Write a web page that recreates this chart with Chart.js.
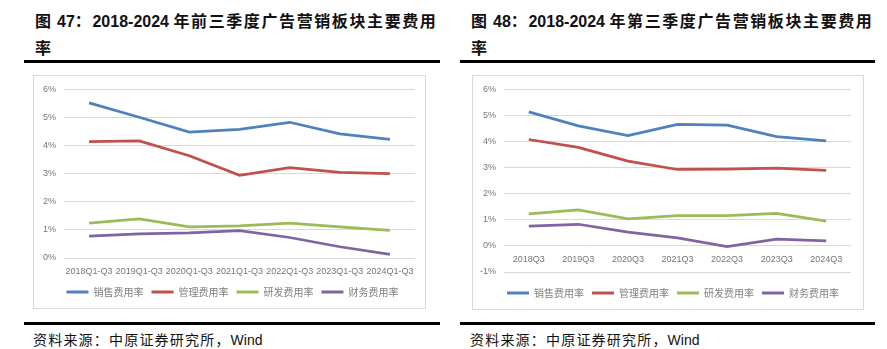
<!DOCTYPE html>
<html>
<head>
<meta charset="utf-8">
<script src="https://cdn.jsdelivr.net/npm/chart.js@4/dist/chart.umd.min.js"></script>
<style>
  html, body { margin: 0; padding: 0; background: #fff; }
  body { width: 887px; height: 349px; position: relative; overflow: hidden;
         font-family: "Liberation Sans", "Noto Sans CJK SC", sans-serif; }
  .title { position: absolute; top: 8px; font-weight: 700; font-size: 16px; line-height: 27px;
           color: #111; white-space: nowrap; }
  .title .c { letter-spacing: 1.6px; }
  .rule { position: absolute; height: 3px; background: #000; }
  .frame { position: absolute; border: 1px solid #d9d9d9; box-sizing: border-box; background: #fff; }
  .frame canvas { position: absolute; left: 0; top: 0; }
  .src { position: absolute; top: 330px; font-size: 14px; line-height: 20px; color: #111; white-space: nowrap; }
  .src .c { letter-spacing: 1.2px; }
</style>
</head>
<body>

<div class="title" style="left:35px"><span class="c">图</span> 47<span class="c">：</span>2018-2024 <span class="c">年前三季度广告营销板块主要费用</span><br><span class="c">率</span></div>
<div class="title" style="left:471px"><span class="c">图</span> 48<span class="c">：</span>2018-2024 <span class="c">年第三季度广告营销板块主要费用</span><br><span class="c">率</span></div>

<div class="rule" style="left:24px;width:416px;top:60px"></div>
<div class="rule" style="left:460px;width:415px;top:60px"></div>

<div class="frame" style="left:33px;top:75px;width:393px;height:234px">
  <canvas id="c1" width="391" height="232"></canvas>
</div>
<div class="frame" style="left:472px;top:75px;width:392px;height:235px">
  <canvas id="c2" width="390" height="233"></canvas>
</div>

<div class="rule" style="left:24px;width:416px;top:322px"></div>
<div class="rule" style="left:460px;width:415px;top:322px"></div>

<div class="src" style="left:33px"><span class="c">资料来源：中原证券研究所，</span>Wind</div>
<div class="src" style="left:470px"><span class="c">资料来源：中原证券研究所，</span>Wind</div>

<script>
// Series names (shared legend)
const seriesNames = ['销售费用率', '管理费用率', '研发费用率', '财务费用率'];
const seriesColors = ['#4F81BD', '#C0504D', '#9BBB59', '#8064A2'];

// 前三季度 (Q1-Q3) expense ratios, %
const ytdLabels = ['2018Q1-Q3', '2019Q1-Q3', '2020Q1-Q3', '2021Q1-Q3', '2022Q1-Q3', '2023Q1-Q3', '2024Q1-Q3'];
const ytdSales   = [5.52, 5.01, 4.48, 4.58, 4.83, 4.42, 4.22];
const ytdAdmin   = [4.14, 4.17, 3.64, 2.94, 3.22, 3.05, 3.00];
const ytdRD      = [1.24, 1.39, 1.11, 1.14, 1.24, 1.11, 0.98];
const ytdFinance = [0.78, 0.86, 0.89, 0.97, 0.73, 0.40, 0.13];

// 第三季度 (single Q3) expense ratios, %
const q3Labels = ['2018Q3', '2019Q3', '2020Q3', '2021Q3', '2022Q3', '2023Q3', '2024Q3'];
const q3Sales   = [5.14, 4.60, 4.23, 4.66, 4.63, 4.19, 4.03];
const q3Admin   = [4.08, 3.78, 3.25, 2.93, 2.94, 2.98, 2.90];
const q3RD      = [1.23, 1.38, 1.04, 1.16, 1.16, 1.25, 0.95];
const q3Finance = [0.76, 0.83, 0.53, 0.31, -0.03, 0.26, 0.19];

// Y-axis tick range, %
const ytdTicks = { min: 0, max: 6, step: 1 };
const q3Ticks  = { min: -1, max: 6, step: 1 };

const tickColor = '#767676';
const gridColor = '#d9d9d9';
const tickFont = { family: 'Liberation Sans', size: 9 };

// Nudges the legend row sideways after layout, so it sits centred under the plot.
const legendOffset = {
  id: 'legendOffset',
  afterLayout(chart, args, opts) {
    const lg = chart.legend;
    if (lg && opts.dx) { lg.left += opts.dx; lg.right += opts.dx; }
  }
};

function buildDatasets(values) {
  return values.map((data, i) => ({
    label: seriesNames[i],
    data: data,
    borderColor: seriesColors[i],
    backgroundColor: seriesColors[i],
    borderWidth: 2.75,
    pointRadius: 0,
    pointHoverRadius: 0,
    tension: 0,
    fill: false
  }));
}

function legendLabels(chart) {
  return Chart.defaults.plugins.legend.labels.generateLabels(chart)
    .map(item => Object.assign(item, { lineWidth: 0 }));
}

function makeChart(id, labels, values, range, cfg) {
  const xScale = {
    type: 'category',
    offset: true,
    grid: { display: false, drawTicks: false },
    border: { display: false },
    ticks: {
      color: tickColor, font: tickFont, padding: 8,
      autoSkip: false, maxRotation: 0, minRotation: 0
    }
  };
  if (cfg.xAtZero) {
    xScale.position = { y: 0 };
  } else {
    xScale.position = 'bottom';
    xScale.afterFit = s => { s.height = cfg.xHeight; };
  }

  const legend = {
    display: true,
    position: 'bottom',
    labels: {
      boxWidth: 22, boxHeight: 3, padding: 8,
      color: '#7f7f7f',
      font: { family: 'Noto Sans CJK SC', size: 10 },
      generateLabels: legendLabels
    }
  };
  if (cfg.legendGap) {
    legend.title = {
      display: true, text: '',
      font: { size: 1, lineHeight: 1 },
      padding: { top: cfg.legendGap - 1, bottom: 0 }
    };
  }

  return new Chart(document.getElementById(id), {
    type: 'line',
    data: { labels: labels, datasets: buildDatasets(values) },
    plugins: [legendOffset],
    options: {
      responsive: false,
      animation: false,
      layout: { padding: cfg.padding },
      plugins: {
        legend: legend,
        legendOffset: { dx: cfg.legendDx },
        tooltip: { enabled: false },
        title: { display: false }
      },
      scales: {
        x: xScale,
        y: {
          min: range.min, max: range.max,
          grid: { color: gridColor, lineWidth: 1, drawTicks: false },
          border: { display: false },
          ticks: {
            stepSize: range.step, color: tickColor, font: tickFont, padding: 8,
            callback: v => v + '%'
          },
          afterFit: s => { s.width = cfg.yWidth; }
        }
      }
    }
  });
}

makeChart('c1', ytdLabels, [ytdSales, ytdAdmin, ytdRD, ytdFinance], ytdTicks, {
  padding: { top: 11, right: 10, bottom: 1, left: 0 },
  yWidth: 30, xHeight: 21, legendDx: 8
});

makeChart('c2', q3Labels, [q3Sales, q3Admin, q3RD, q3Finance], q3Ticks, {
  padding: { top: 10, right: 12, bottom: 1, left: 0 },
  yWidth: 31, xAtZero: true, legendGap: 8, legendDx: 11
});
</script>
</body>
</html>
